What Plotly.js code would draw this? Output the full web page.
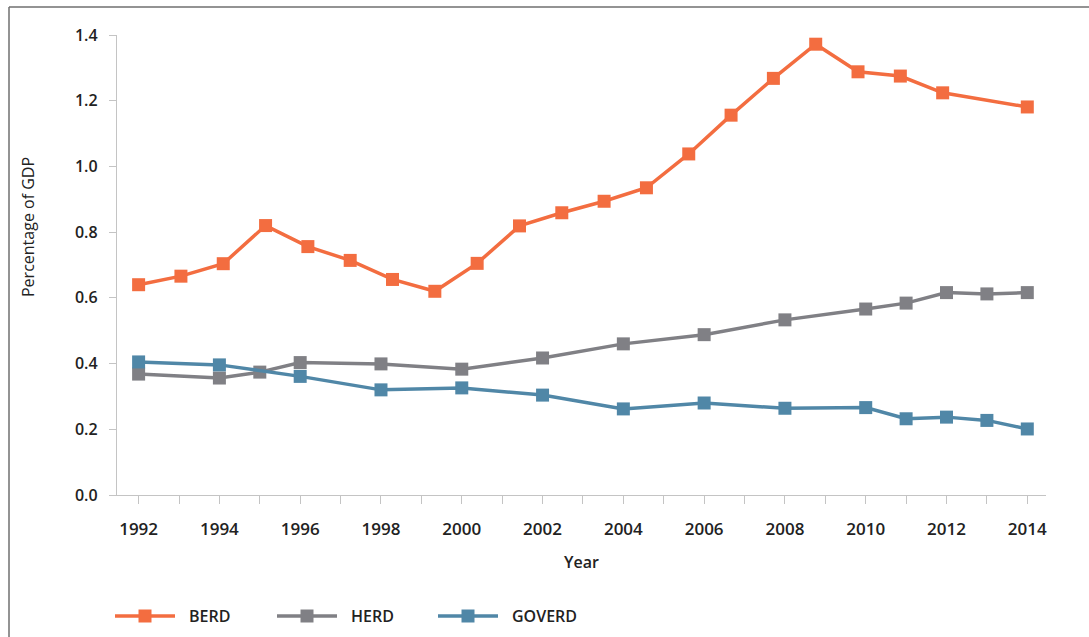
<!DOCTYPE html>
<html>
<head>
<meta charset="utf-8">
<script src="https://cdn.plot.ly/plotly-3.0.1.min.js"></script>
<style>
  html, body { margin: 0; padding: 0; background: #fff; }
  #chart { width: 1089px; height: 637px; }
</style>
</head>
<body>
<div id="chart"></div>
<script>
// BERD is reported on 22 evenly spaced slots spread over the 1992-2014 span
const berdSlots = [0, 1, 2, 3, 4, 5, 6, 7, 8, 9, 10, 11, 12, 13, 14, 15, 16, 17, 18, 19, 20, 21];
const berdValues = [0.640, 0.666, 0.704, 0.820, 0.756, 0.714, 0.656, 0.620, 0.705, 0.819, 0.859,
                    0.894, 0.935, 1.038, 1.156, 1.268, 1.372, 1.288, 1.275, 1.224, null, 1.181];

const herdYears = [1992, 1994, 1995, 1996, 1998, 2000, 2002, 2004, 2006, 2008, 2010, 2011, 2012, 2013, 2014];
const herdValues = [0.368, 0.356, 0.374, 0.403, 0.399, 0.383, 0.417, 0.460, 0.488, 0.533, 0.566, 0.584, 0.616, 0.612, 0.616];

const goverdYears = [1992, 1994, 1996, 1998, 2000, 2002, 2004, 2006, 2008, 2010, 2011, 2012, 2013, 2014];
const goverdValues = [0.405, 0.396, 0.361, 0.320, 0.326, 0.304, 0.262, 0.280, 0.264, 0.266, 0.232, 0.237, 0.227, 0.201];

const yearTicks = [1992, 1993, 1994, 1995, 1996, 1997, 1998, 1999, 2000, 2001, 2002, 2003,
                   2004, 2005, 2006, 2007, 2008, 2009, 2010, 2011, 2012, 2013, 2014];
const seriesNames = ['BERD', 'HERD', 'GOVERD'];
const seriesColors = ['#f36d40', '#808085', '#5087a7'];

// layout geometry
const W = 1089, H = 637;
const M = { l: 117, r: 43, t: 35, b: 142 };
const plotW = W - M.l - M.r, plotH = H - M.t - M.b;
const px2x = p => (p - M.l) / plotW;
const px2y = p => (H - M.b - p) / plotH;

const xRange = [1991.465, 2014.463];
const slotPerYear = (berdSlots.length - 1) / (2014 - 1992);
const x2Range = xRange.map(v => (v - 1992) * slotPerYear);

const FONT = '"Open Sans", "Noto Sans", sans-serif';
const lineW = 3.5, markerSize = 13;

function series(i, x, y, xaxis) {
  return {
    type: 'scatter', mode: 'lines+markers', name: seriesNames[i],
    x: x, y: y, xaxis: xaxis, yaxis: 'y', connectgaps: true,
    line: { color: seriesColors[i], width: lineW },
    marker: { symbol: 'square', size: markerSize, color: seriesColors[i] },
    showlegend: false, hoverinfo: 'x+y+name'
  };
}

const data = [
  series(0, berdSlots, berdValues, 'x2'),
  series(1, herdYears, herdValues, 'x'),
  series(2, goverdYears, goverdValues, 'x')
];

// legend row drawn beneath the plot
const shapes = [];
const annotations = [];
const legendY = 616;
const legendStarts = [115, 277, 438];
legendStarts.forEach((x0, i) => {
  shapes.push({ type: 'line', xref: 'paper', yref: 'paper',
    x0: px2x(x0), x1: px2x(x0 + 60), y0: px2y(legendY), y1: px2y(legendY),
    line: { color: seriesColors[i], width: lineW } });
  shapes.push({ type: 'rect', xref: 'paper', yref: 'paper',
    x0: px2x(x0 + 30 - markerSize / 2), x1: px2x(x0 + 30 + markerSize / 2),
    y0: px2y(legendY - markerSize / 2), y1: px2y(legendY + markerSize / 2),
    line: { width: 0 }, fillcolor: seriesColors[i] });
  annotations.push({ xref: 'paper', yref: 'paper', x: px2x(x0 + 72), y: px2y(legendY),
    xanchor: 'left', yanchor: 'middle', showarrow: false, text: seriesNames[i],
    font: { family: FONT, size: 16, color: '#222', weight: 600 } });
});

// outer frame (left and top edges)
shapes.push({ type: 'line', xref: 'paper', yref: 'paper',
  x0: px2x(9), x1: px2x(9), y0: px2y(7), y1: px2y(H + 5),
  line: { color: '#6f6f6f', width: 1.5 } });
shapes.push({ type: 'line', xref: 'paper', yref: 'paper',
  x0: px2x(9), x1: px2x(W + 5), y0: px2y(7), y1: px2y(7),
  line: { color: '#6f6f6f', width: 1.5 } });

// y-axis title
annotations.push({ xref: 'paper', yref: 'paper', x: px2x(28), y: px2y(227),
  xanchor: 'center', yanchor: 'middle', textangle: -90, showarrow: false,
  text: 'Percentage of GDP', font: { family: FONT, size: 16, color: '#222' } });

const axisColor = '#c4c4c4';
const layout = {
  width: W, height: H,
  margin: M,
  paper_bgcolor: '#ffffff', plot_bgcolor: '#ffffff',
  showlegend: false,
  font: { family: FONT, color: '#222' },
  xaxis: {
    range: xRange, tickmode: 'array', tickvals: yearTicks,
    ticktext: yearTicks.map(y => (y % 2 === 0 ? String(y) : '')),
    ticks: 'outside', ticklen: 8, tickcolor: axisColor, tickwidth: 1,
    showline: true, linecolor: axisColor, linewidth: 1.2,
    showgrid: false, zeroline: false,
    ticklabelstandoff: 10,
    tickfont: { family: FONT, size: 17, color: '#222', weight: 600 },
    title: { text: 'Year', standoff: 18, font: { family: FONT, size: 16, color: '#222', weight: 600 } }
  },
  xaxis2: {
    range: x2Range, overlaying: 'x', visible: false, showgrid: false, zeroline: false
  },
  yaxis: {
    range: [0, 1.4], tickvals: [0, 0.2, 0.4, 0.6, 0.8, 1.0, 1.2, 1.4], tickformat: '.1f',
    ticks: 'outside', ticklen: 7, tickcolor: axisColor, tickwidth: 1,
    showline: true, linecolor: axisColor, linewidth: 1.2,
    showgrid: false, zeroline: false,
    ticklabelstandoff: 8,
    tickfont: { family: FONT, size: 16, color: '#222', weight: 600 }
  },
  shapes: shapes,
  annotations: annotations
};

Plotly.newPlot('chart', data, layout, { displayModeBar: false, staticPlot: true });
</script>
</body>
</html>
